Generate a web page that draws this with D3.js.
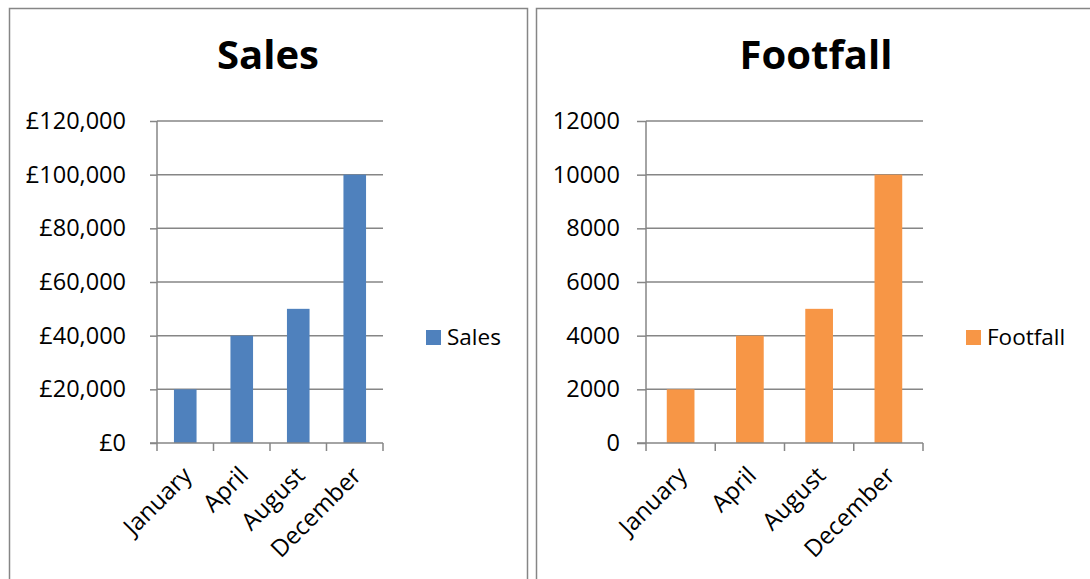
<!DOCTYPE html>
<html>
<head>
<meta charset="utf-8">
<script src="https://cdn.jsdelivr.net/npm/d3@7"></script>
<style>
  body { margin: 0; background: #fff; }
  svg { display: block; font-family: "Open Sans", sans-serif; }
</style>
</head>
<body>
<svg id="chart" width="1090" height="579"></svg>
<script>
// data
var months = ["January", "April", "August", "December"];
var salesValues = [20000, 40000, 50000, 100000];
var footfallValues = [2000, 4000, 5000, 10000];
var salesTicks = [0, 20000, 40000, 60000, 80000, 100000, 120000];
var footfallTicks = [0, 2000, 4000, 6000, 8000, 10000, 12000];

var svg = d3.select("#chart");
var gray = "#868686";

function drawPanel(p) {
	var g = svg.append("g");

	// panel frame (runs off the bottom / right of the picture)
	g.append("rect")
		.attr("x", p.frame[0]).attr("y", 8.5)
		.attr("width", p.frame[1] - p.frame[0]).attr("height", 640)
		.attr("fill", "none").attr("stroke", gray).attr("stroke-width", 1.5);

	g.append("text")
		.attr("x", p.titleX).attr("y", 69)
		.attr("text-anchor", "middle")
		.attr("font-size", 40).attr("font-weight", "bold")
		.text(p.title);

	var x = d3.scaleBand().domain(months).range([p.left, p.right]).paddingInner(0.6).paddingOuter(0.3);
	var y = d3.scaleLinear().domain([0, d3.max(p.ticks)]).range([443, 121]);

	// gridlines
	g.selectAll(".grid").data(p.ticks.slice(1)).enter().append("line")
		.attr("x1", p.left).attr("x2", p.right)
		.attr("y1", function(d) { return y(d); }).attr("y2", function(d) { return y(d); })
		.attr("stroke", gray).attr("stroke-width", 1.5);

	// bars
	g.selectAll(".bar").data(p.values).enter().append("rect")
		.attr("x", function(d, i) { return x(months[i]); })
		.attr("y", function(d) { return y(d); })
		.attr("width", x.bandwidth())
		.attr("height", function(d) { return y(0) - y(d); })
		.attr("fill", p.color);

	// y axis
	var yAxis = d3.axisLeft(y).tickValues(p.ticks).tickFormat(p.fmt)
		.tickSize(p.left - p.tickStart).tickPadding(p.tickPad);
	var ya = g.append("g").attr("transform", "translate(" + p.left + ",0)").call(yAxis);
	ya.select(".domain").remove();
	ya.append("line").attr("x1", 0).attr("x2", 0).attr("y1", 121).attr("y2", 443)
		.attr("stroke", gray).attr("stroke-width", 1.5);
	ya.selectAll(".tick line").attr("stroke", gray).attr("stroke-width", 1.5);
	ya.selectAll(".tick text").attr("font-size", 23.5).attr("fill", "#000")
		.attr("font-family", "Open Sans");

	// x axis with ticks at category boundaries
	var bounds = d3.range(months.length + 1).map(function(i) { return p.left + i * (p.right - p.left) / months.length; });
	g.append("line").attr("x1", p.tickStart).attr("x2", p.right).attr("y1", 443).attr("y2", 443)
		.attr("stroke", gray).attr("stroke-width", 1.5);
	g.selectAll(".xt").data(bounds).enter().append("line")
		.attr("x1", function(d) { return d; }).attr("x2", function(d) { return d; })
		.attr("y1", 443).attr("y2", 451)
		.attr("stroke", gray).attr("stroke-width", 1.5);
	g.selectAll(".xl").data(months).enter().append("text")
		.attr("transform", function(d) {
			return "translate(" + (x(d) + x.bandwidth() / 2 + 2) + ",471) rotate(-45)";
		})
		.attr("text-anchor", "end")
		.attr("dy", "0.35em")
		.attr("font-size", 24)
		.text(function(d) { return d; });

	// legend
	g.append("rect").attr("x", p.legendX).attr("y", 330).attr("width", 15).attr("height", 15)
		.attr("fill", p.color);
	g.append("text").attr("x", p.legendX + 21).attr("y", 345)
		.attr("font-size", 22.5)
		.text(p.title);
}

drawPanel({
	title: "Sales", titleX: 268, frame: [9.5, 527.5],
	left: 157, right: 383, tickStart: 150, tickPad: 24,
	values: salesValues, ticks: salesTicks, color: "#4F81BD",
	fmt: function(d) { return "£" + d3.format(",")(d); },
	legendX: 426
});

drawPanel({
	title: "Footfall", titleX: 816, frame: [536.5, 1200],
	left: 646, right: 923, tickStart: 637, tickPad: 17,
	values: footfallValues, ticks: footfallTicks, color: "#F79646",
	fmt: function(d) { return String(d); },
	legendX: 966
});
</script>
</body>
</html>
